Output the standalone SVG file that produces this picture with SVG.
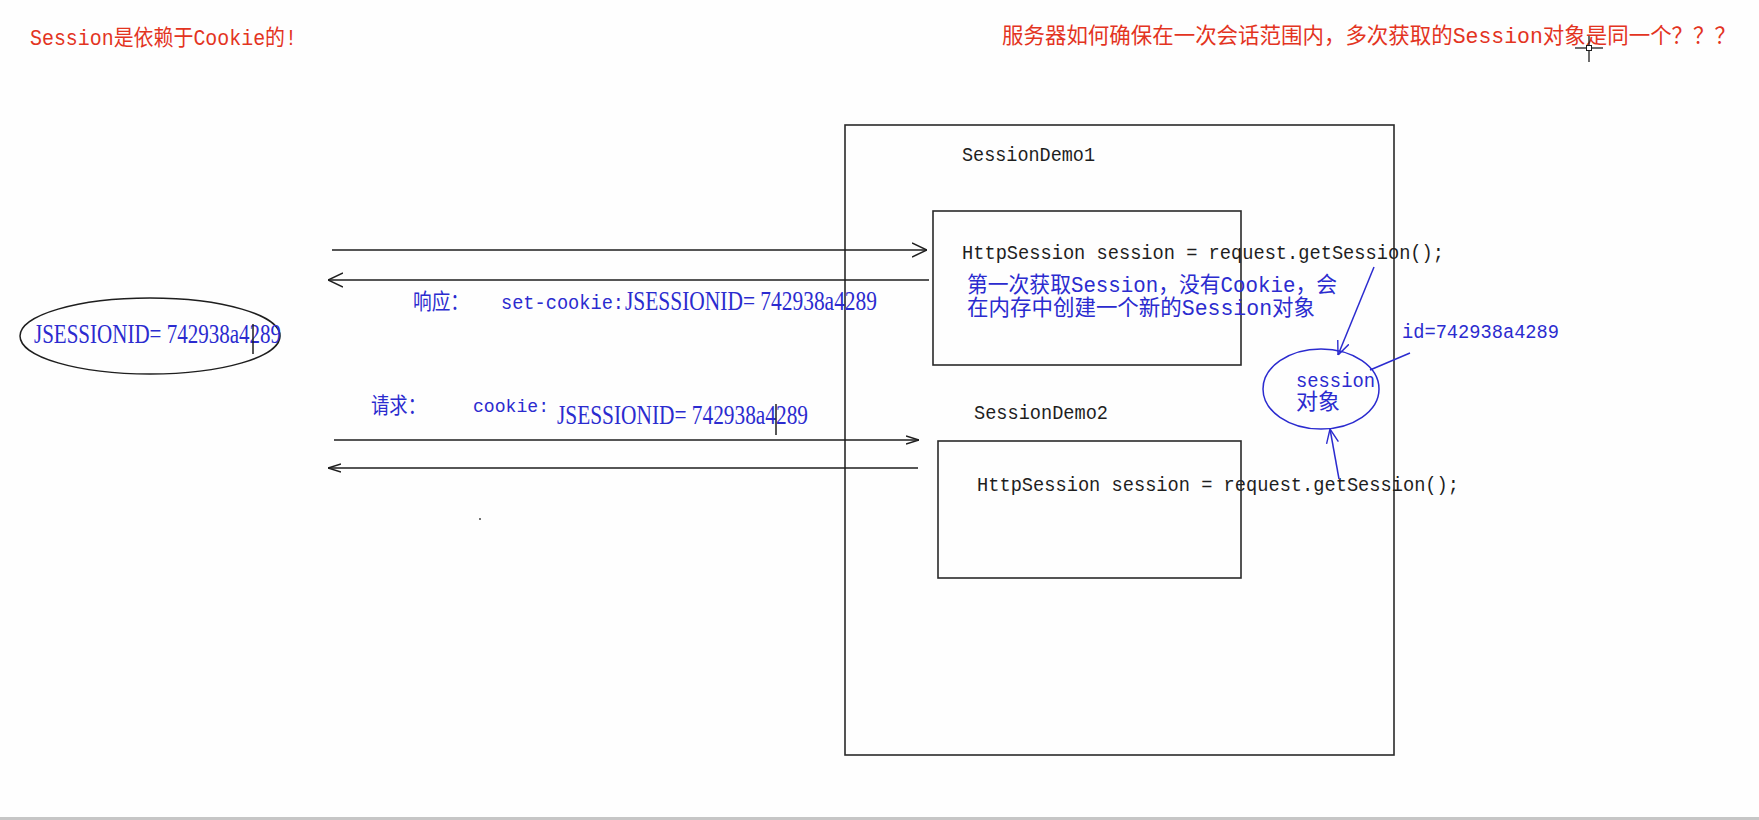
<svg xmlns="http://www.w3.org/2000/svg" width="1759" height="820" viewBox="0 0 1759 820">
  <style>
    .mono { font-family: "Liberation Mono", "Noto Sans CJK SC", monospace; }
    .serif { font-family: "Liberation Serif", "Noto Sans CJK SC", serif; }
    .cjk { font-family: "Liberation Mono", "Noto Sans CJK SC", sans-serif; }
    .red { fill: #e3341f; }
    .blue { fill: #2b2bcf; }
    .dark { fill: #1e1e1e; }
    .box { fill: none; stroke: #2a2a2a; stroke-width: 1.6; }
    .line { fill: none; stroke: #1e1e1e; stroke-width: 1.6; }
    .bline { fill: none; stroke: #2b2bcf; stroke-width: 1.5; }
  </style>
  <defs>
    <marker id="ahBig" viewBox="0 0 15 16" refX="15" refY="8" markerWidth="15" markerHeight="16" markerUnits="userSpaceOnUse" orient="auto">
      <path d="M0,1 L15,8 L0,15" fill="none" stroke="#1e1e1e" stroke-width="1.5"/>
    </marker>
    <marker id="ahSmall" viewBox="0 0 13 10" refX="13" refY="5" markerWidth="13" markerHeight="10" markerUnits="userSpaceOnUse" orient="auto">
      <path d="M0,1 L13,5 L0,9" fill="none" stroke="#1e1e1e" stroke-width="1.5"/>
    </marker>
    <marker id="ahBlue" viewBox="0 0 14 14" refX="14" refY="7" markerWidth="14" markerHeight="14" markerUnits="userSpaceOnUse" orient="auto">
      <path d="M0,1 L14,7 L0,13" fill="none" stroke="#2b2bcf" stroke-width="1.4"/>
    </marker>
  </defs>

  <rect x="0" y="0" width="1759" height="820" fill="#fefefe"/>
  <rect x="0" y="817" width="1759" height="3" fill="#c6c6c6"/>

  <g id="title-left">
    <text class="cjk red" x="30" y="45" font-size="22" textLength="267" lengthAdjust="spacingAndGlyphs">Session是依赖于Cookie的!</text>
  </g>
  <g id="title-right">
    <text class="cjk red" x="1002" y="43" font-size="22" textLength="734" lengthAdjust="spacingAndGlyphs">服务器如何确保在一次会话范围内，多次获取的Session对象是同一个？？？</text>
  </g>

  <g id="server">
    <rect class="box" x="845" y="125" width="549" height="630"/>
  </g>

  <g id="session-demo1">
    <text class="mono dark" x="962" y="161" font-size="21" textLength="133" lengthAdjust="spacingAndGlyphs">SessionDemo1</text>
    <rect class="box" x="933" y="211" width="308" height="154"/>
    <text class="mono dark" x="962" y="259" font-size="21" textLength="482" lengthAdjust="spacingAndGlyphs">HttpSession session = request.getSession();</text>
    <text class="cjk blue" x="967" y="292" font-size="22" textLength="370" lengthAdjust="spacingAndGlyphs">第一次获取Session，没有Cookie，会</text>
    <text class="cjk blue" x="967" y="315" font-size="22" textLength="348" lengthAdjust="spacingAndGlyphs">在内存中创建一个新的Session对象</text>
  </g>

  <g id="session-demo2">
    <text class="mono dark" x="974" y="419" font-size="21" textLength="134" lengthAdjust="spacingAndGlyphs">SessionDemo2</text>
    <rect class="box" x="938" y="441" width="303" height="137"/>
    <text class="mono dark" x="977" y="491" font-size="21" textLength="482" lengthAdjust="spacingAndGlyphs">HttpSession session = request.getSession();</text>
  </g>

  <g id="client-cookie">
    <ellipse cx="150" cy="336" rx="130" ry="38" fill="none" stroke="#1e1e1e" stroke-width="1.5"/>
    <text class="serif blue" x="34" y="343" font-size="27" textLength="247" lengthAdjust="spacingAndGlyphs">JSESSIONID= 742938a4289</text>
    <line x1="253" y1="324" x2="253" y2="354" stroke="#1e1e1e" stroke-width="1.5"/>
  </g>

  <g id="session-object">
    <ellipse cx="1321" cy="389" rx="58" ry="40" fill="none" stroke="#2b2bcf" stroke-width="1.5"/>
    <text class="mono blue" x="1296" y="387" font-size="20" textLength="79" lengthAdjust="spacingAndGlyphs">session</text>
    <text class="cjk blue" x="1296" y="409" font-size="22" textLength="44" lengthAdjust="spacingAndGlyphs">对象</text>
    <text class="mono blue" x="1402" y="338" font-size="20" textLength="157" lengthAdjust="spacingAndGlyphs">id=742938a4289</text>
  </g>

  <g id="labels">
    <text class="cjk blue" x="413" y="309" font-size="22" textLength="56" lengthAdjust="spacingAndGlyphs">响应：</text>
    <text class="mono blue" x="501" y="309" font-size="20" textLength="123" lengthAdjust="spacingAndGlyphs">set-cookie:</text>
    <text class="serif blue" x="625" y="310" font-size="27" textLength="252" lengthAdjust="spacingAndGlyphs">JSESSIONID= 742938a4289</text>
    <text class="cjk blue" x="371" y="413" font-size="22" textLength="55" lengthAdjust="spacingAndGlyphs">请求：</text>
    <text class="mono blue" x="473" y="412" font-size="19" textLength="76" lengthAdjust="spacingAndGlyphs">cookie:</text>
    <text class="serif blue" x="557" y="424" font-size="27" textLength="251" lengthAdjust="spacingAndGlyphs">JSESSIONID= 742938a4289</text>
    <line x1="776" y1="404" x2="776" y2="435" stroke="#1e1e1e" stroke-width="1.5"/>
  </g>

  <g id="connectors">
    <line class="line" x1="332" y1="250" x2="927" y2="250" marker-end="url(#ahBig)"/>
    <line class="line" x1="929" y1="280" x2="328" y2="280" marker-end="url(#ahBig)"/>
    <line class="line" x1="334" y1="440" x2="919" y2="440" marker-end="url(#ahSmall)"/>
    <line class="line" x1="918" y1="468" x2="328" y2="468" marker-end="url(#ahSmall)"/>
    <line class="bline" x1="1374" y1="267" x2="1338" y2="355" marker-end="url(#ahBlue)"/>
    <line class="bline" x1="1339" y1="479" x2="1330" y2="429" marker-end="url(#ahBlue)"/>
    <line class="bline" x1="1410" y1="353" x2="1370" y2="370"/>
  </g>

  <g id="marks">
    <circle cx="480" cy="519" r="1" fill="#444"/>
    <line x1="1589" y1="36" x2="1589" y2="62" stroke="#1e1e1e" stroke-width="1.3"/>
    <line x1="1575" y1="48" x2="1603" y2="48" stroke="#1e1e1e" stroke-width="1.3"/>
    <rect x="1586.5" y="45.5" width="5" height="5" fill="#fefefe" stroke="#1e1e1e" stroke-width="1"/>
  </g>
</svg>
